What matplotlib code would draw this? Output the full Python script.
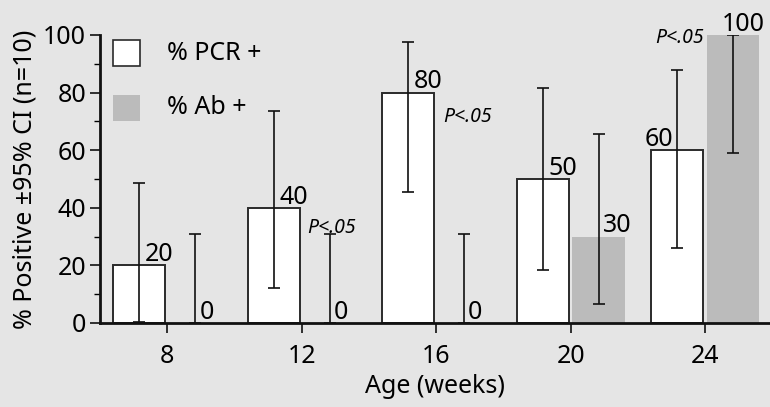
import matplotlib
matplotlib.use("Agg")
import matplotlib.pyplot as plt
import numpy as np
from matplotlib.patches import Rectangle

plt.rcParams['font.family'] = ['Noto Sans', 'DejaVu Sans']

weeks = [8, 12, 16, 20, 24]
pcr = [20, 40, 80, 50, 60]
pcr_lo = [0.5, 12, 45.5, 18.5, 26]
pcr_hi = [48.5, 73.5, 97.5, 81.5, 88]
ab = [0, 0, 0, 30, 100]
ab_lo = [0, 0, 0, 6.5, 59]
ab_hi = [31, 31, 31, 65.5, 100]
sig_x = [12.9, 16.92, 23.25]
sig_y = [33, 71.5, 99]
sig_text = "P<.05"

BG = "#e5e5e5"
GRAY = "#bbbbbb"
EDGE = "#2a2a2a"
FS = 18

fig = plt.figure(figsize=(7.7, 4.07), dpi=100, facecolor=BG)
ax = fig.add_axes([100/770, 1-323/407, 670/770, 288/407], facecolor=BG)

w = 1.55
off = 0.83
x = np.array(weeks, dtype=float)
ax.bar(x - off, pcr, width=w, color="white", edgecolor=EDGE, linewidth=1.4, zorder=2)
ax.bar(x + off, ab, width=w, color=GRAY, edgecolor="none", zorder=2)

pcr_err = [np.array(pcr) - np.array(pcr_lo), np.array(pcr_hi) - np.array(pcr)]
ab_err = [np.array(ab) - np.array(ab_lo), np.array(ab_hi) - np.array(ab)]
ax.errorbar(x - off, pcr, yerr=pcr_err, fmt="none", ecolor="#111111", elinewidth=1.2,
            capsize=4.5, capthick=1.2, zorder=3)
ax.errorbar(x + off, ab, yerr=ab_err, fmt="none", ecolor="#111111", elinewidth=1.2,
            capsize=4.5, capthick=1.2, zorder=3)

for xi, v in zip(x - off, pcr):
    if v == 60:
        ax.annotate(str(v), (xi, v), xytext=(-3, 3), textcoords="offset points",
                    ha="right", va="baseline", fontsize=FS, zorder=4)
    else:
        ax.annotate(str(v), (xi, v), xytext=(4, 3), textcoords="offset points",
                    ha="left", va="baseline", fontsize=FS, zorder=4)
for xi, v in zip(x + off, ab):
    dx = -8 if v == 100 else 3
    ax.annotate(str(v), (xi, v), xytext=(dx, 3), textcoords="offset points",
                ha="left", va="baseline", fontsize=FS, zorder=4)

for sx, sy in zip(sig_x, sig_y):
    ax.text(sx, sy, sig_text, fontsize=14, style="italic", ha="center", va="center", zorder=4)

ax.set_xlim(6.0, 25.93)
ax.set_ylim(0, 100)
ax.set_xticks(weeks)
ax.set_yticks([0, 20, 40, 60, 80, 100])
ax.set_yticks([10, 30, 50, 70, 90], minor=True)
ax.tick_params(axis="both", which="major", labelsize=FS, length=7, width=1.2, color="#111111")
ax.tick_params(axis="y", which="minor", length=4, width=1.0)
ax.tick_params(axis="x", pad=8)
ax.tick_params(axis="y", pad=3)
for s in ["top", "right"]:
    ax.spines[s].set_visible(False)
for s in ["left", "bottom"]:
    ax.spines[s].set_linewidth(2)
    ax.spines[s].set_color("#111111")
ax.spines["bottom"].set_zorder(5)

ax.set_xlabel("Age (weeks)", fontsize=FS, labelpad=4)
ax.set_ylabel("% Positive ±95% CI (n=10)", fontsize=FS, labelpad=4)

# legend
leg_items = [("white", EDGE, "% PCR +", 40), (GRAY, "none", "% Ab +", 95)]
for fc, ec, lab, ytop in leg_items:
    fig.patches.append(Rectangle((113/770, 1-(ytop+26)/407), 27/770, 26/407,
                                 transform=fig.transFigure, facecolor=fc,
                                 edgecolor=ec, linewidth=1.2))
    fig.text(167/770, 1-(ytop+13)/407, lab, fontsize=FS, va="center", ha="left")

fig.savefig("out.png", dpi=100, facecolor=BG)
